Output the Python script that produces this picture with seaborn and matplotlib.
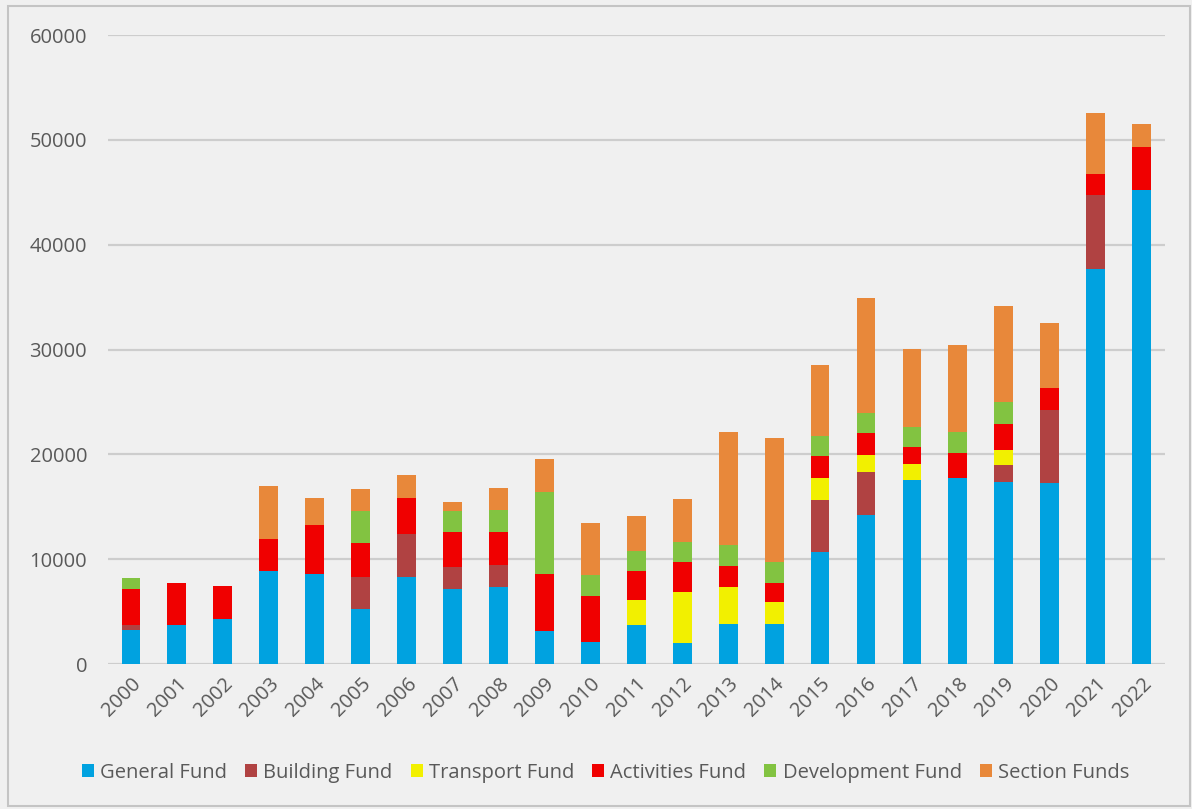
import numpy as np
import pandas as pd
import matplotlib
matplotlib.use("Agg")
import matplotlib.pyplot as plt
import seaborn as sns
from matplotlib.patches import Patch, Rectangle

years = [str(y) for y in range(2000, 2023)]

general = [3240, 3700, 4300, 8850, 8600, 5300, 8330, 7130, 7380, 3120, 2130, 3700,
           2000, 3820, 3820, 10660, 14180, 17520, 17770, 17390, 17300, 37650, 45240]
building = [450, 0, 0, 0, 0, 3050, 4040, 2100, 2060, 0, 0, 0,
            0, 0, 0, 5020, 4170, 0, 0, 1590, 6980, 7060, 0]
transport = [0, 0, 0, 0, 0, 0, 0, 0, 0, 0, 0, 2450,
             4850, 3530, 2070, 2070, 1620, 1590, 0, 1470, 0, 0, 0]
activities = [3440, 4040, 3200, 3050, 4640, 3190, 3440, 3390, 3180, 5470, 4390, 2700,
              2870, 1970, 1840, 2100, 2070, 1590, 2330, 2450, 2090, 2010, 4050]
development = [1110, 0, 0, 0, 0, 3080, 0, 1980, 2100, 7820, 1940, 1940,
               1930, 2030, 1980, 1940, 1940, 1940, 2060, 2070, 0, 0, 0]
section = [0, 0, 0, 5100, 2580, 2070, 2190, 830, 2040, 3180, 5020, 3310,
           4130, 10810, 11820, 6710, 10910, 7410, 8270, 9180, 6200, 5860, 2260]

funds = ["General Fund", "Building Fund", "Transport Fund",
         "Activities Fund", "Development Fund", "Section Funds"]
colors = ["#00A2E0", "#B04242", "#F2F000", "#F00000", "#82C341", "#E8883A"]

df = pd.DataFrame({"year": years, "General Fund": general, "Building Fund": building,
                   "Transport Fund": transport, "Activities Fund": activities,
                   "Development Fund": development, "Section Funds": section})
# cumulative totals so each layer can be drawn over the previous one
cum = df[funds].cumsum(axis=1)

sns.set_theme(style="white")
plt.rcParams['font.family'] = ['Open Sans', 'DejaVu Sans']

bg = "#f0f0f0"
fig = plt.figure(figsize=(11.92, 8.09), dpi=100, facecolor=bg)
ax = fig.add_axes([0.0906, 0.179, 0.8864, 0.7777])
ax.set_facecolor(bg)

for fund, col in reversed(list(zip(funds, colors))):
    sns.barplot(x=df["year"], y=cum[fund], color=col, width=0.41,
                saturation=1, ax=ax, edgecolor="none", zorder=3)

ax.set_ylim(0, 60000)
ax.set_xlim(-0.5, 22.5)
ax.set_yticks(range(0, 60001, 10000))
ax.yaxis.grid(True, color="#cdcdcd", linewidth=1.6, zorder=0)
ax.set_axisbelow(True)
for s in ax.spines.values():
    s.set_visible(False)
ax.set_xlabel("")
ax.set_ylabel("")
ax.tick_params(axis="y", length=0, pad=15, labelsize=14.5, labelcolor="#595959")
ax.tick_params(axis="x", length=0, pad=7, labelsize=14.5, labelcolor="#595959")
for lab in ax.get_xticklabels():
    lab.set_rotation(45)
    lab.set_ha("right")
    lab.set_rotation_mode("anchor")

handles = [Patch(facecolor=c, edgecolor="none", label=f) for f, c in zip(funds, colors)]
fig.legend(handles=handles, loc="lower center", bbox_to_anchor=(0.508, 0.01), ncol=6,
           frameon=False, fontsize=14.5, handlelength=0.6, handleheight=0.6,
           handletextpad=0.3, columnspacing=0.9, labelcolor="#595959")

fig.patches.append(Rectangle((8 / 1192, 3 / 809), 1 - 10 / 1192, 1 - 9 / 809,
                             transform=fig.transFigure, fill=False,
                             edgecolor="#c4c4c4", linewidth=1.5))

fig.savefig("out.png", dpi=100, facecolor=bg)
